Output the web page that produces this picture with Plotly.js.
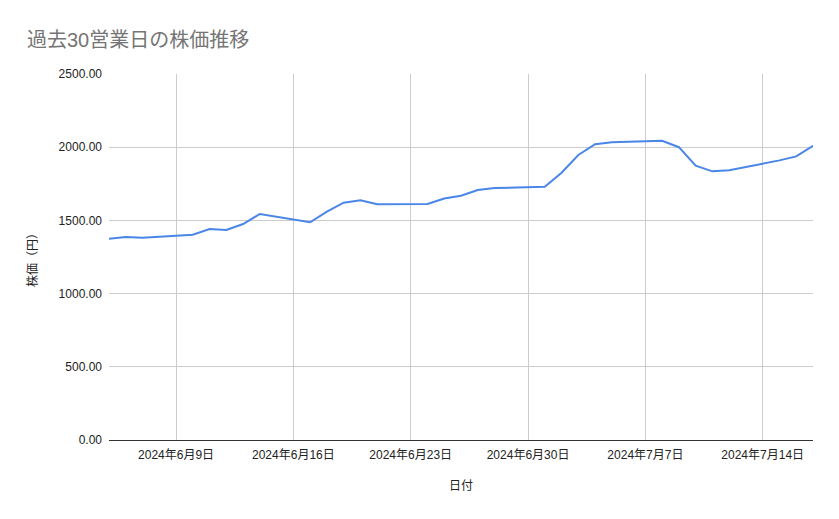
<!DOCTYPE html>
<html>
<head>
<meta charset="utf-8">
<script src="https://cdn.plot.ly/plotly-3.0.1.min.js"></script>
<style>
  html, body { margin: 0; padding: 0; background: #fff; }
  #chart { width: 839px; height: 519px; }
</style>
</head>
<body>
<div id="chart"></div>
<script>
// 日付と終値
const dates = [
    '2024-06-05', '2024-06-06', '2024-06-07',
    '2024-06-10', '2024-06-11', '2024-06-12', '2024-06-13', '2024-06-14',
    '2024-06-17', '2024-06-18', '2024-06-19', '2024-06-20', '2024-06-21',
    '2024-06-24', '2024-06-25', '2024-06-26', '2024-06-27', '2024-06-28',
    '2024-07-01', '2024-07-02', '2024-07-03', '2024-07-04', '2024-07-05',
    '2024-07-08', '2024-07-09', '2024-07-10', '2024-07-11', '2024-07-12',
    '2024-07-15', '2024-07-16', '2024-07-17'
];
const prices = [
    1375, 1387, 1382,
    1402, 1441, 1434, 1475, 1544,
    1487, 1560, 1621, 1638, 1610,
    1612, 1650, 1669, 1708, 1721,
    1730, 1826, 1947, 2020, 2033,
    2044, 2000, 1874, 1835, 1843,
    1910, 1937, 2010
];
const tickDates = ['2024-06-09', '2024-06-16', '2024-06-23', '2024-06-30', '2024-07-07', '2024-07-14'];
const tickLabels = ['2024年6月9日', '2024年6月16日', '2024年6月23日', '2024年6月30日', '2024年7月7日', '2024年7月14日'];

const fontFamily = "'Liberation Sans', Arial, 'Noto Sans CJK JP', sans-serif";

Plotly.newPlot('chart', [{
    type: 'scatter',
    mode: 'lines',
    x: dates,
    y: prices,
    line: { color: '#4a86e8', width: 2 },
    hoverinfo: 'x+y'
}], {
    width: 839,
    height: 519,
    margin: { l: 109, r: 26, t: 74, b: 79 },
    paper_bgcolor: '#fff',
    plot_bgcolor: '#fff',
    font: { family: fontFamily, size: 12, color: '#222' },
    showlegend: false,
    title: {
        text: '過去30営業日の株価推移',
        font: { size: 20, color: '#757575' },
        x: 27 / 839, xref: 'container', xanchor: 'left',
        y: 1 - 40 / 519, yref: 'container', yanchor: 'middle'
    },
    xaxis: {
        type: 'date',
        range: ['2024-06-05', '2024-07-17'],
        tickvals: tickDates,
        ticktext: tickLabels,
        tickfont: { size: 12, color: '#222' },
        ticklabelstandoff: 4,
        showgrid: true,
        gridcolor: '#cccccc',
        gridwidth: 1,
        showline: true,
        linecolor: '#333',
        linewidth: 1,
        ticks: '',
        zeroline: false,
        title: { text: '日付', font: { size: 12, color: '#222' }, standoff: 20 }
    },
    yaxis: {
        range: [0, 2500],
        dtick: 500,
        tickformat: '.2f',
        tickfont: { size: 12, color: '#222' },
        ticklabelstandoff: 6,
        showgrid: true,
        gridcolor: '#cccccc',
        gridwidth: 1,
        zeroline: false,
        showline: false,
        ticks: '',
        title: { text: '株価（円）', font: { size: 12, color: '#222' }, standoff: 18 }
    }
}, { displayModeBar: false, responsive: false });
</script>
</body>
</html>
